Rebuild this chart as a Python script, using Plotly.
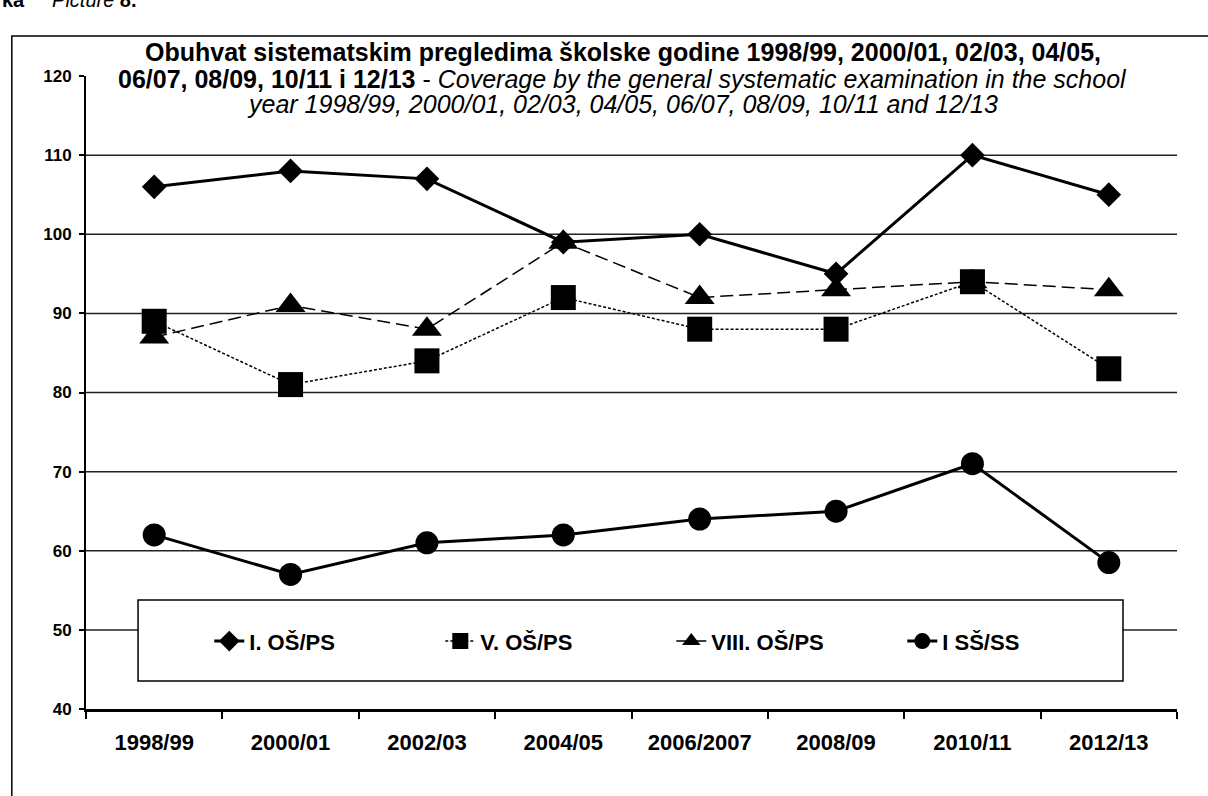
import plotly.graph_objects as go

# school years on the x axis
years = ["1998/99", "2000/01", "2002/03", "2004/05", "2006/2007", "2008/09", "2010/11", "2012/13"]

# coverage (%) per grade
i_os = [106, 108, 107, 99, 100, 95, 110, 105]
v_os = [89, 81, 84, 92, 88, 88, 94, 83]
viii_os = [87, 91, 88, 99, 92, 93, 94, 93]
i_ss = [62, 57, 61, 62, 64, 65, 71, 58.5]

grid_vals = [50, 60, 70, 80, 90, 100, 110]

BOLD = dict(family="Arial", color="black", weight="bold")

fig = go.Figure()
fig.add_trace(go.Scatter(
    x=years, y=i_os, name="I. OŠ/PS", mode="lines+markers",
    line=dict(color="black", width=3),
    marker=dict(symbol="diamond", size=19, color="black")
))
fig.add_trace(go.Scatter(
    x=years, y=v_os, name="V. OŠ/PS", mode="lines+markers",
    line=dict(color="black", width=1.5, dash="3px,2px"),
    marker=dict(symbol="square", size=25, color="black")
))
fig.add_trace(go.Scatter(
    x=years, y=viii_os, name="VIII. OŠ/PS", mode="lines+markers",
    line=dict(color="black", width=1.5, dash="13px,6px"),
    marker=dict(symbol="triangle-up", size=26, color="black")
))
fig.add_trace(go.Scatter(
    x=years, y=i_ss, name="I SŠ/SS", mode="lines+markers",
    line=dict(color="black", width=3),
    marker=dict(symbol="circle", size=23, color="black")
))

shapes = []
# outer frame of the figure (cut off at right and bottom)
shapes.append(dict(type="rect", xref="paper", yref="paper",
                   x0=-0.068, x1=1.06, y0=-0.2, y1=1.063,
                   line=dict(color="black", width=1.5), layer="below"))
# horizontal gridlines (none at the top value)
for v in grid_vals:
    shapes.append(dict(type="line", xref="paper", yref="y", x0=0, x1=1, y0=v, y1=v,
                       line=dict(color="#222", width=1.5), layer="below"))
# legend box
shapes.append(dict(type="rect", xref="paper", yref="paper",
                   x0=0.0477, x1=0.9505, y0=0.0442, y1=0.1722,
                   fillcolor="white", line=dict(color="black", width=1.5), layer="below"))

annotations = [
    dict(text="<b>Obuhvat sistematskim pregledima školske godine 1998/99, 2000/01, 02/03, 04/05,</b>",
         x=0.492, y=1.038),
    dict(text="<b>06/07, 08/09, 10/11 i 12/13</b> - <i>Coverage by the general systematic examination in the school</i>",
         x=0.492, y=0.996),
    dict(text="<i>year 1998/99, 2000/01, 02/03, 04/05, 06/07, 08/09, 10/11 and 12/13</i>",
         x=0.492, y=0.955),
]
for a in annotations:
    a.update(xref="paper", yref="paper", xanchor="center", yanchor="middle", showarrow=False,
             font=dict(family="Arial", size=25, color="black"))
annotations.append(dict(text="<b>ka</b>     <i>Picture</i> <b>8.</b>", xref="paper", yref="paper",
                        x=-0.079, y=1.12, xanchor="left", yanchor="middle", showarrow=False,
                        font=dict(family="Arial", size=20, color="black")))

fig.update_layout(
    width=1208, height=796,
    margin=dict(l=86, r=31, t=76, b=87),
    paper_bgcolor="white", plot_bgcolor="white",
    shapes=shapes, annotations=annotations,
    showlegend=True,
    legend=dict(orientation="h", x=0.113, y=0.107, xanchor="left", yanchor="middle",
                bgcolor="rgba(0,0,0,0)", borderwidth=0, entrywidth=186,
                font=dict(size=22, **BOLD)),
    xaxis=dict(type="category", range=[-0.5, 7.5], showgrid=False, showline=True,
               linecolor="black", linewidth=3, ticks="outside", tickson="boundaries",
               ticklen=7, tickwidth=1.5, tickcolor="black", ticklabelstandoff=12,
               tickfont=dict(size=22, **BOLD)),
    yaxis=dict(range=[40, 120], dtick=10, showgrid=False, zeroline=False, showline=True,
               linecolor="black", linewidth=2, ticks="outside", ticklen=5, tickwidth=1.5,
               tickcolor="black", ticklabelstandoff=4, tickfont=dict(size=17, **BOLD)),
)

# page has a default 8px body margin; drop it so the figure sits at the window corner
fig.write_html("out.html", config={"displayModeBar": False},
               post_script="document.body.style.margin='0';")
